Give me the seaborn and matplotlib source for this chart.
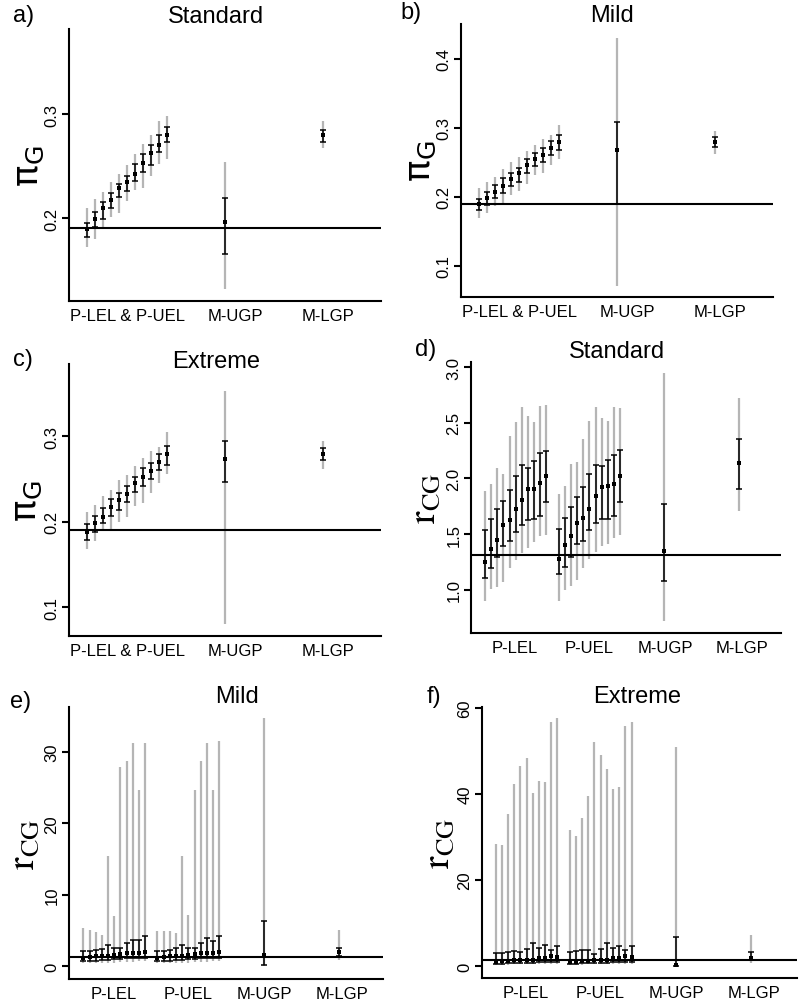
import numpy as np
import seaborn as sns
import matplotlib.pyplot as plt

# rótulos dos eixos x
rot_pi = ['P-LEL & P-UEL', 'M-UGP', 'M-LGP']
rot_r = ['P-LEL', 'P-UEL', 'M-UGP', 'M-LGP']

# a) pi_G, Standard: 11 P-LEL/P-UEL, M-UGP, M-LGP
est_a = [0.189, 0.199, 0.210, 0.217, 0.229, 0.235, 0.242, 0.253, 0.263, 0.270, 0.280, 0.196, 0.280]
lo50_a = [0.182, 0.191, 0.199, 0.210, 0.220, 0.226, 0.236, 0.244, 0.251, 0.264, 0.273, 0.165, 0.273]
hi50_a = [0.195, 0.206, 0.215, 0.224, 0.233, 0.240, 0.252, 0.262, 0.270, 0.280, 0.288, 0.219, 0.285]
lo95_a = [0.172, 0.180, 0.191, 0.201, 0.205, 0.216, 0.227, 0.229, 0.240, 0.252, 0.257, 0.132, 0.267]
hi95_a = [0.210, 0.218, 0.225, 0.235, 0.242, 0.251, 0.262, 0.271, 0.280, 0.293, 0.298, 0.254, 0.293]

# b) pi_G, Mild
est_b = [0.189, 0.198, 0.207, 0.216, 0.226, 0.234, 0.246, 0.254, 0.261, 0.270, 0.279, 0.267, 0.279]
lo50_b = [0.181, 0.188, 0.198, 0.206, 0.216, 0.222, 0.235, 0.244, 0.250, 0.261, 0.268, 0.189, 0.272]
hi50_b = [0.197, 0.207, 0.217, 0.227, 0.235, 0.242, 0.254, 0.264, 0.271, 0.280, 0.289, 0.308, 0.287]
lo95_b = [0.170, 0.177, 0.186, 0.190, 0.202, 0.209, 0.218, 0.231, 0.234, 0.246, 0.255, 0.071, 0.262]
hi95_b = [0.212, 0.221, 0.228, 0.240, 0.251, 0.257, 0.266, 0.275, 0.284, 0.289, 0.304, 0.430, 0.295]

# c) pi_G, Extreme
est_c = [0.188, 0.199, 0.206, 0.217, 0.225, 0.233, 0.245, 0.253, 0.260, 0.270, 0.279, 0.273, 0.279]
lo50_c = [0.179, 0.188, 0.198, 0.207, 0.214, 0.223, 0.235, 0.242, 0.250, 0.261, 0.266, 0.247, 0.272]
hi50_c = [0.197, 0.207, 0.216, 0.227, 0.234, 0.242, 0.253, 0.263, 0.269, 0.280, 0.289, 0.295, 0.287]
lo95_c = [0.168, 0.177, 0.190, 0.191, 0.200, 0.206, 0.218, 0.222, 0.234, 0.245, 0.256, 0.080, 0.262]
hi95_c = [0.211, 0.220, 0.230, 0.237, 0.249, 0.255, 0.265, 0.275, 0.283, 0.288, 0.305, 0.353, 0.295]

# d) r_CG, Standard: 11 P-LEL, 11 P-UEL, M-UGP, M-LGP
est_d = [1.25, 1.37, 1.45, 1.58, 1.63, 1.73, 1.81, 1.91, 1.91, 1.96, 2.02,
         1.28, 1.40, 1.48, 1.60, 1.65, 1.73, 1.84, 1.92, 1.93, 1.95, 2.02, 1.35, 2.14]
lo50_d = [1.11, 1.20, 1.30, 1.39, 1.44, 1.52, 1.58, 1.63, 1.64, 1.66, 1.79,
          1.14, 1.21, 1.30, 1.41, 1.44, 1.54, 1.60, 1.64, 1.64, 1.66, 1.79, 1.08, 1.91]
hi50_d = [1.54, 1.64, 1.73, 1.80, 1.90, 2.02, 2.12, 2.09, 2.16, 2.23, 2.25,
          1.55, 1.65, 1.74, 1.83, 1.92, 2.04, 2.12, 2.11, 2.17, 2.21, 2.26, 1.77, 2.35]
lo95_d = [0.90, 1.01, 1.03, 1.07, 1.20, 1.27, 1.33, 1.38, 1.43, 1.48, 1.49,
          0.90, 1.00, 1.04, 1.09, 1.20, 1.28, 1.34, 1.39, 1.41, 1.47, 1.49, 0.72, 1.71]
hi95_d = [1.89, 1.95, 2.09, 2.04, 2.38, 2.51, 2.64, 2.56, 2.51, 2.65, 2.66,
          1.86, 1.93, 2.13, 2.15, 2.35, 2.52, 2.64, 2.54, 2.52, 2.64, 2.63, 2.95, 2.72]

# e) r_CG, Mild
est_e = [1.2, 1.3, 1.4, 1.5, 1.5, 1.6, 1.7, 1.8, 1.8, 1.9, 2.0,
         1.2, 1.3, 1.4, 1.5, 1.5, 1.6, 1.7, 1.8, 1.8, 1.9, 2.0, 1.6, 2.0]
lo50_e = [0.7, 0.8, 0.8, 0.9, 0.9, 1.0, 1.0, 1.1, 1.1, 1.2, 1.2,
          0.7, 0.8, 0.8, 0.9, 0.9, 1.0, 1.0, 1.1, 1.1, 1.2, 1.2, 0.2, 1.5]
hi50_e = [2.1, 2.1, 2.3, 2.4, 3.0, 2.5, 2.5, 3.3, 3.7, 3.7, 4.2,
          2.1, 2.1, 2.3, 2.5, 3.0, 2.5, 2.5, 3.3, 3.9, 3.6, 4.3, 6.4, 2.6]
lo95_e = [0.4, 0.4, 0.5, 0.5, 0.5, 0.5, 0.6, 0.6, 0.6, 0.7, 0.7,
          0.4, 0.4, 0.5, 0.5, 0.5, 0.5, 0.6, 0.6, 0.6, 0.7, 0.7, 0.1, 0.9]
hi95_e = [5.3, 5.1, 4.8, 4.4, 15.4, 7.1, 27.9, 28.7, 31.3, 24.7, 31.2,
          5.0, 5.0, 5.0, 4.7, 15.4, 7.2, 24.7, 28.7, 31.3, 24.7, 31.5, 34.7, 5.1]

# f) r_CG, Extreme
est_f = [1.0, 1.1, 1.2, 1.3, 1.3, 1.5, 1.4, 1.8, 1.9, 2.3, 2.0,
         0.9, 1.0, 1.2, 1.2, 1.3, 1.4, 1.4, 1.8, 1.9, 2.2, 2.0, 0.2, 1.9]
lo50_f = [0.5, 0.5, 0.6, 0.6, 0.7, 0.7, 0.8, 0.9, 0.9, 1.0, 1.0,
          0.5, 0.5, 0.6, 0.6, 0.7, 0.7, 0.8, 0.9, 0.9, 1.0, 1.0, 0.1, 1.3]
hi50_f = [3.1, 3.1, 3.3, 3.5, 3.2, 3.9, 5.4, 4.2, 4.8, 3.7, 4.6,
          3.3, 3.4, 3.6, 3.6, 2.8, 4.0, 5.4, 4.2, 4.6, 3.7, 4.6, 6.7, 3.3]
lo95_f = [0.3, 0.3, 0.3, 0.4, 0.4, 0.4, 0.4, 0.5, 0.5, 0.5, 0.5,
          0.3, 0.3, 0.3, 0.4, 0.4, 0.4, 0.4, 0.5, 0.5, 0.5, 0.5, 0.05, 0.8]
hi95_f = [28.4, 28.1, 35.4, 42.2, 46.4, 48.4, 40.2, 42.9, 42.8, 56.6, 57.7,
          31.7, 30.2, 34.4, 39.6, 52.0, 49.0, 45.8, 41.2, 41.7, 55.8, 56.7, 50.9, 7.3]

# valores de referência (linha horizontal)
ref_pi = 0.19
ref_r = 1.31

sns.set_style('ticks')
plt.rcParams['font.family'] = ['Liberation Sans', 'DejaVu Sans']
plt.rcParams['text.color'] = 'black'
plt.rcParams['axes.labelcolor'] = 'black'
plt.rcParams['xtick.color'] = 'black'
plt.rcParams['ytick.color'] = 'black'
plt.rcParams['axes.edgecolor'] = 'black'

# posições no eixo x
x_pi = np.concatenate([np.arange(1, 12), [18.25, 30.4]])
tick_pi = [6.0, 19.5, 31.1]
x_r = np.concatenate([np.arange(1, 12), np.arange(13, 24), [30.2, 42.3]])
tick_r = [5.9, 17.9, 30.3, 42.8]

W, H = 800, 1004
fig = plt.figure(figsize=(8, 10.04), dpi=100)


def caixa(l, t, r, b):
    return [l / W, 1 - b / H, (r - l) / W, (b - t) / H]


def painel(box, xs, est, lo50, hi50, lo95, hi95, ref, xlim, ylim, yticks,
           ticks_x, rotulos, ylab, mathfam, lab_off, lab_size):
    ax = fig.add_axes(caixa(*box))
    ax.vlines(xs, lo95, hi95, color='#b5b5b5', lw=1.6, zorder=1)
    est = np.array(est)
    ax.errorbar(xs, est, yerr=[est - np.array(lo50), np.array(hi50) - est],
                fmt='none', ecolor='black', elinewidth=1.1, capsize=2.0,
                capthick=1.1, zorder=2)
    sns.scatterplot(x=xs, y=est, ax=ax, color='black', marker='s', s=9,
                    linewidth=0, zorder=3)
    ax.axhline(ref, color='black', lw=1.5, zorder=4)
    ax.set_xlim(*xlim)
    ax.set_ylim(*ylim)
    ax.set_yticks(yticks)
    ax.set_yticklabels([f'{t:g}' if t >= 5 or t == 0 else f'{t:.1f}' for t in yticks])
    ax.set_xticks(ticks_x, rotulos)
    ax.tick_params(axis='y', length=5, width=1.5, labelsize=12, pad=2,
                   labelrotation=90)
    ax.tick_params(axis='x', length=0, labelsize=12, pad=5)
    for lab in ax.get_yticklabels():
        lab.set_va('center')
    sns.despine(ax=ax)
    ax.spines['left'].set_linewidth(1.5)
    ax.spines['bottom'].set_linewidth(1.5)
    ax.set_ylabel(ylab, fontsize=lab_size, math_fontfamily=mathfam,
                  va='center', ha='center')
    ax.yaxis.set_label_coords(-lab_off / (box[2] - box[0]), 0.5)
    return ax


lab_pi = r'$\mathrm{\pi}_{\mathsf{G}}$'
lab_r = r'$\mathrm{r}_{\mathrm{CG}}$'

painel((69, 30, 381, 302), x_pi, est_a, lo50_a, hi50_a, lo95_a, hi95_a, ref_pi,
       (-1.29, 37.7), (0.120, 0.382), [0.2, 0.3], tick_pi, rot_pi, lab_pi, 'dejavusans', 40, 26)
painel((461, 25, 773, 298), x_pi, est_b, lo50_b, hi50_b, lo95_b, hi95_b, ref_pi,
       (-1.29, 37.7), (0.055, 0.45), [0.1, 0.2, 0.3, 0.4], tick_pi, rot_pi, lab_pi, 'dejavusans', 41, 26)
painel((69, 365, 381, 637), x_pi, est_c, lo50_c, hi50_c, lo95_c, hi95_c, ref_pi,
       (-1.29, 37.7), (0.066, 0.385), [0.1, 0.2, 0.3], tick_pi, rot_pi, lab_pi, 'dejavusans', 42, 26)
painel((471, 363, 781, 634), x_r, est_d, lo50_d, hi50_d, lo95_d, hi95_d, ref_r,
       (-1.28, 49.2), (0.614, 3.045), [1.0, 1.5, 2.0, 2.5, 3.0], tick_r, rot_r, lab_r, 'stix', 46, 27)
painel((69, 708, 383, 980), x_r, est_e, lo50_e, hi50_e, lo95_e, hi95_e, ref_r,
       (-1.32, 49.5), (-1.78, 36.3), [0, 10, 20, 30], tick_r, rot_r, lab_r, 'stix', 45, 27)
painel((482, 708, 797, 979), x_r, est_f, lo50_f, hi50_f, lo95_f, hi95_f, ref_r,
       (-1.22, 49.8), (-2.8, 60.2), [0, 20, 40, 60], tick_r, rot_r, lab_r, 'stix', 43, 27)

# títulos e letras dos painéis
titulos = [('Standard', 216, 17), ('Mild', 612, 16), ('Extreme', 216, 362),
           ('Standard', 617, 352), ('Mild', 237, 697), ('Extreme', 637, 697)]
for txt, px, py in titulos:
    fig.text(px / W, 1 - py / H, txt, fontsize=17, ha='center', va='center')

letras = [('a)', 13, 16), ('b)', 400, 13), ('c)', 13, 360),
          ('d)', 415, 350), ('e)', 10, 702), ('f)', 427, 697)]
for txt, px, py in letras:
    fig.text(px / W, 1 - py / H, txt, fontsize=17, ha='left', va='center')

fig.savefig('out.png', dpi=100)
